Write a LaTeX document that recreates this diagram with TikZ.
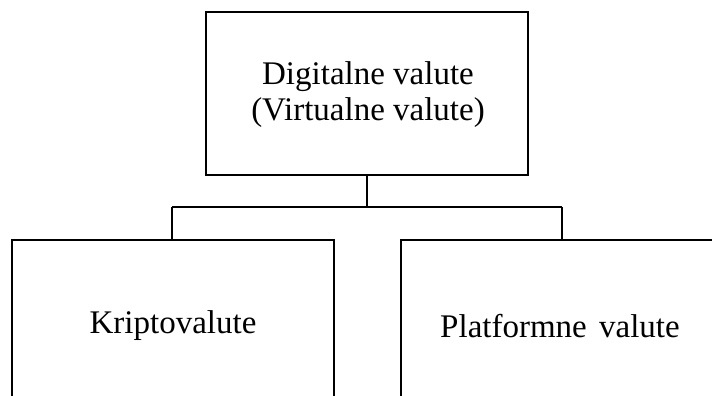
\documentclass[tikz,border=0pt]{standalone}
\usepackage{fontspec}
\setmainfont{Liberation Serif}
\begin{document}
\begin{tikzpicture}[x=1pt,y=1pt,
  boxstyle/.style={draw=black, line width=2pt, rectangle, inner sep=0pt},
  txt/.style={font=\fontsize{33}{36}\selectfont, align=center, inner sep=0pt},
  conn/.style={draw=black, line width=2pt}]
\clip (0,0) rectangle (712,-396);
\fill[white] (0,0) rectangle (712,-396);
% top box
\node[boxstyle, minimum width=322pt, minimum height=162pt] (top) at (366.5,-93.5) {};
\node[txt] (toptxt) at (368,-95) {Digitalne valute\\(Virtualne valute)};
% bottom boxes (extend past the lower edge)
\node[boxstyle, minimum width=322pt, minimum height=200pt] (leftbox) at (173,-340) {};
\node[boxstyle, minimum width=340pt, minimum height=200pt] (rightbox) at (571,-340) {};
\node[txt] (lefttxt) at (173,-326) {Kriptovalute};
\node[txt] (righttxt) at (560,-326) {Platformne\hspace{4pt} valute};
% connectors
\coordinate (junc) at (366.5,-207);
\coordinate (jl) at (172,-207);
\coordinate (jr) at (562,-207);
\draw[conn] (top.south) -- (junc);
\draw[conn] (jl) -- (jr);
\draw[conn] (jl) -- (jl |- leftbox.north);
\draw[conn] (jr) -- (jr |- rightbox.north);
\end{tikzpicture}
\end{document}
